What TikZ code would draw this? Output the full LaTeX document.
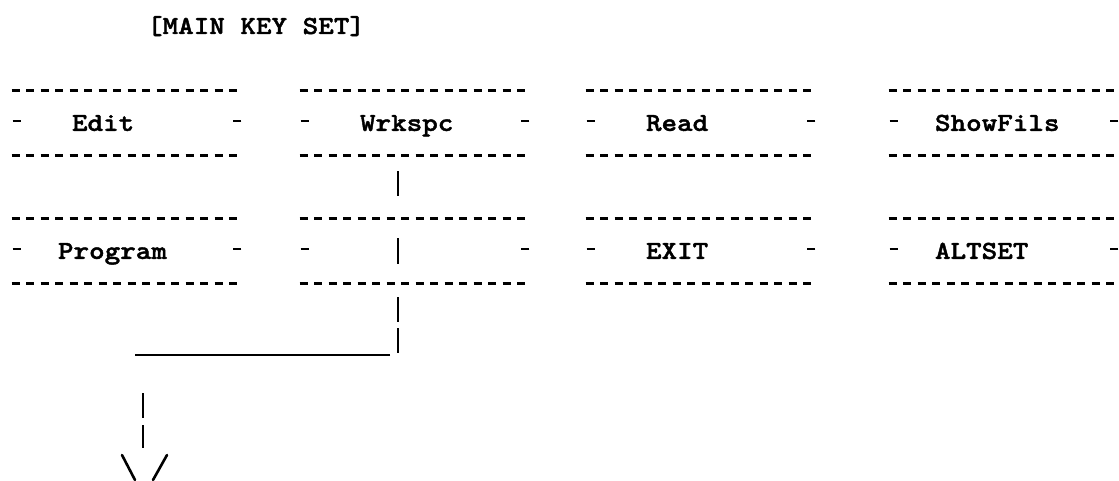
\documentclass[tikz,border=0pt]{standalone}
\usepackage{fontspec}
\newfontfamily\typewriter{lmmonolt10-bold.otf}[FakeStretch=1.14, FakeBold=1.6]
\usepackage{tikz}
\usetikzlibrary{calc}

\begin{document}
\begin{tikzpicture}[
  x=0.5pt, y=-0.5pt,
  keycap/.style={
    rectangle,
    minimum width=115pt,
    minimum height=32pt,
    text width=#1,
    text height=10.4pt,
    text depth=2.5pt,
    inner xsep=0pt,
    align=left,
    font=\typewriter\fontsize{13}{15}\selectfont,
    append after command={
      (\tikzlastnode.north west) edge[dashrow] (\tikzlastnode.north east)
      (\tikzlastnode.south west) edge[dashrow] (\tikzlastnode.south east)
      ([xshift=0.5pt,yshift=1pt]\tikzlastnode.west) edge[sidemark] ([xshift=4.5pt,yshift=1pt]\tikzlastnode.west)
      ([xshift=-0.5pt,yshift=1pt]\tikzlastnode.east) edge[sidemark] ([xshift=-4.5pt,yshift=1pt]\tikzlastnode.east)
    }
  },
  keycap/.default=55pt,
  dashrow/.style={line width=1.2pt, dash pattern=on 4pt off 3.25pt},
  sidemark/.style={line width=1.2pt},
  bar/.style={line width=1.3pt},
  rule/.style={line width=0.8pt},
  slash/.style={line width=1.3pt, line cap=round}
]
\useasboundingbox (0,0) rectangle (1119,481);
\fill[white] (0,0) rectangle (1119,481);

% ===================== heading =====================
\node[font=\typewriter\fontsize{13}{15}\selectfont, anchor=base west] (title) at (140,34) {[MAIN KEY SET]};

% ===================== first row =====================
\node[keycap]      (keyedit) at (127,123)  {Edit};
\node[keycap]      (keywrk)  at (415,123)  {Wrkspc};
\node[keycap]      (keyread) at (701,123)  {Read};
\node[keycap=69pt] (keyshow) at (1004,123) {ShowFils};

% ===================== second row =====================
\node[keycap=69pt] (keyprog)  at (127,251)  {Program};
\node[keycap]      (keyblank) at (415,251)  {};
\node[keycap]      (keyexit)  at (701,251)  {EXIT};
\node[keycap=69pt] (keyalt)   at (1004,251) {ALTSET};

% ===================== path down from Wrkspc =====================
\coordinate (turn) at (398,355);
\coordinate (bend) at (143,355);
\coordinate (tip)  at (143,492);

\draw[bar, shorten <=8pt, shorten >=11.5pt] ([xshift=-8.5pt]keywrk.south) -- ([xshift=-8.5pt]keyblank.north);
\draw[bar] ([xshift=-8.5pt,yshift=6.5pt]keyblank.center) -- ([xshift=-8.5pt,yshift=-6.5pt]keyblank.center);
\draw[bar, dash pattern=on 12.5pt off 3pt, shorten <=7pt] ([xshift=-8.5pt]keyblank.south) -- (turn);
\draw[rule, shorten <=4pt, shorten >=-4pt] (turn) -- (bend);
\draw[bar, dash pattern=on 12.5pt off 3.5pt, shorten <=19pt, shorten >=22pt] (bend) -- (tip);

% open head
\draw[slash] ($(tip)+(-21,-37)$) -- ($(tip)+(-8,-12)$);
\draw[slash] ($(tip)+(24,-37)$) -- ($(tip)+(10,-12)$);

\end{tikzpicture}
\end{document}
